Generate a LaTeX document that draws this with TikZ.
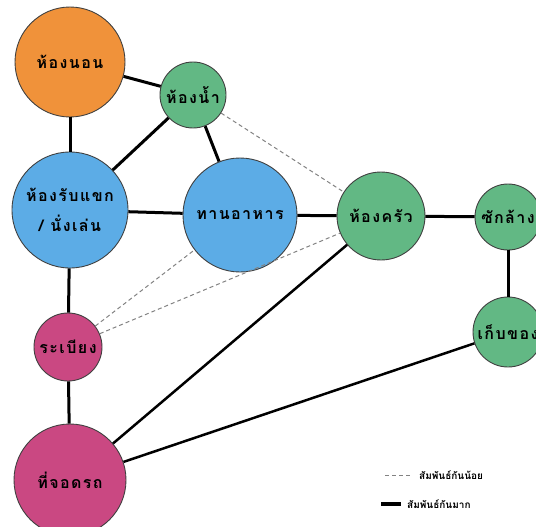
\documentclass[tikz,border=0pt]{standalone}
\usepackage{fontspec}
\newfontfamily\thaifont[Script=Thai]{Loma}
\newfontfamily\thaiwide[Script=Thai,LetterSpace=9]{Loma}
\definecolor{corange}{RGB}{240,146,58}
\definecolor{cgreen}{RGB}{98,184,132}
\definecolor{cblue}{RGB}{92,172,230}
\definecolor{cpink}{RGB}{202,72,130}
\definecolor{cdash}{RGB}{130,130,130}
\tikzset{
  room/.style={circle, draw=black!75, line width=0.9pt, inner sep=0pt, minimum size=#1, font=\thaiwide\bfseries\fontsize{16}{30}\selectfont, align=center},
  strong/.style={line width=3pt, black},
  weak/.style={line width=1pt, cdash, dash pattern=on 4pt off 3pt},
  legendtext/.style={anchor=west, font=\thaifont\bfseries\fontsize{10}{12}\selectfont, inner sep=0pt},
}
\begin{document}
\begin{tikzpicture}[x=1pt,y=-1pt]
\useasboundingbox (0,0) rectangle (536,527);
\clip (0,0) rectangle (536,527);
\path
  (70,62) coordinate (pbed)
  (193,95) coordinate (pbath)
  (70,210) coordinate (pliv)
  (240,215) coordinate (pdin)
  (381,216) coordinate (pkit)
  (508,217) coordinate (plau)
  (508,332) coordinate (psto)
  (68,347) coordinate (pbal)
  (70,480) coordinate (ppark);
\node[room=110pt, fill=corange] (bed) at (pbed) {ห้องนอน};
\node[room=66pt, fill=cgreen] (bath) at (pbath) {ห้องน้ำ};
\node[room=116pt, fill=cblue] (liv) at (pliv) {ห้องรับแขก\\/ นั่งเล่น};
\node[room=114pt, fill=cblue] (din) at (pdin) {ทานอาหาร};
\node[room=88pt, fill=cgreen] (kit) at (pkit) {ห้องครัว};
\node[room=66pt, fill=cgreen] (lau) at (plau) {ซักล้าง};
\node[room=70pt, fill=cgreen] (sto) at (psto) {เก็บของ};
\node[room=68pt, fill=cpink] (bal) at (pbal) {ระเบียง};
\node[room=112pt, fill=cpink] (park) at (ppark) {ที่จอดรถ};
% edges
\draw[strong] (bed) -- (bath);
\draw[strong] (bed) -- (liv);
\draw[strong] (bath) -- (liv);
\draw[strong] (bath) -- (din);
\draw[weak] (bath) -- (kit);
\draw[strong] (liv) -- (din);
\draw[strong] (din) -- (kit);
\draw[strong] (kit) -- (lau);
\draw[strong] (lau) -- (sto);
\draw[strong] (liv) -- (bal);
\draw[strong] (bal) -- (park);
\draw[weak] (bal) -- (din);
\draw[weak] (bal) -- (kit);
\draw[strong, line width=2.5pt] (park) -- (kit);
\draw[strong, line width=2.5pt] (park) -- (sto);
% legend
\coordinate (l1a) at (385,475);
\coordinate (l1b) at (412,475);
\coordinate (l2a) at (381,504);
\coordinate (l2b) at (401,504);
\draw[weak] (l1a) -- (l1b);
\draw[line width=3.5pt] (l2a) -- (l2b);
\node[legendtext] (t1) at (419,475) {สัมพันธ์กันน้อย};
\node[legendtext] (t2) at (407,504) {สัมพันธ์กันมาก};
\end{tikzpicture}
\end{document}
